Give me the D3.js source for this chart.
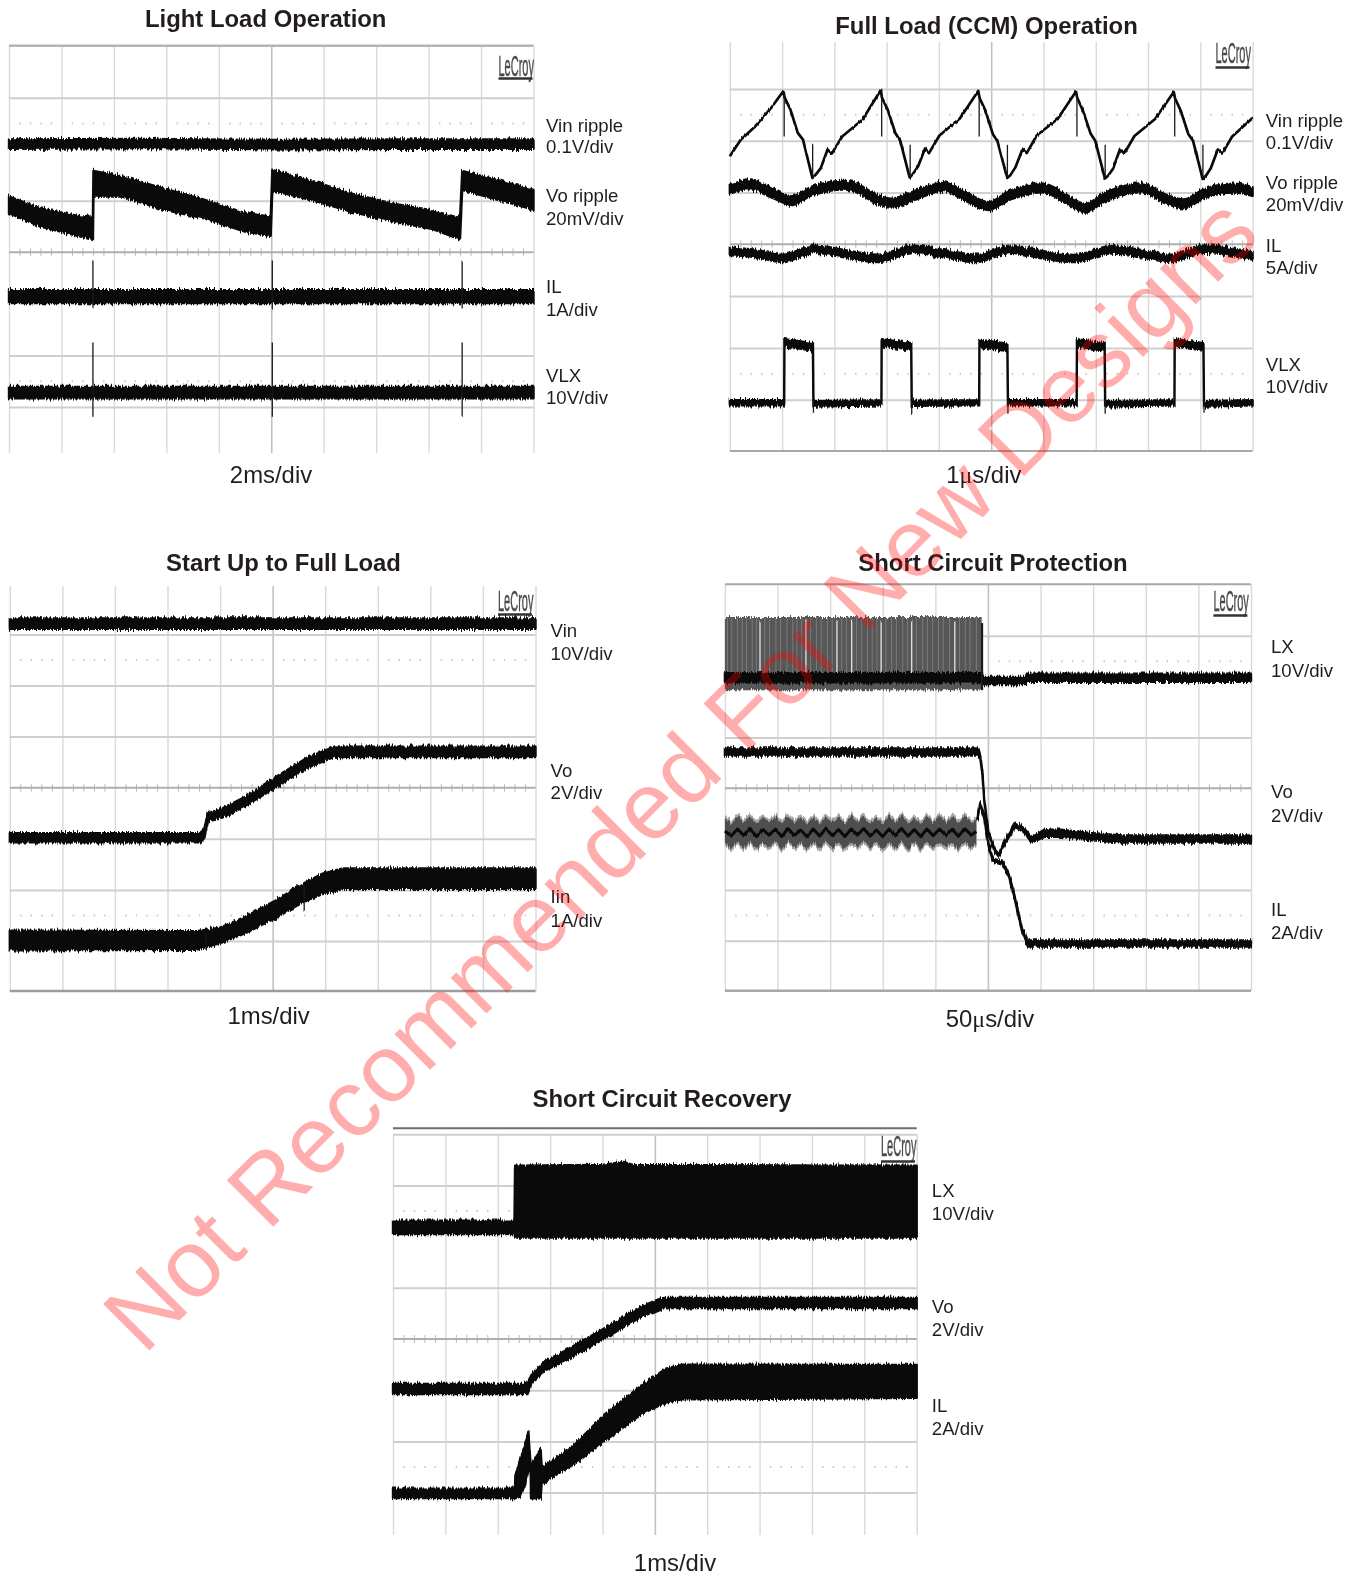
<!DOCTYPE html>
<html>
<head>
<meta charset="utf-8">
<title>Scope captures</title>
<script src="https://cdn.jsdelivr.net/npm/d3@7"></script>
<style>
  body { margin: 0; background: #fff; }
  text { font-family: "Liberation Sans", Arial, sans-serif; fill: #231f20; }
</style>
</head>
<body>
<div id="chart"></div>
<script>
// all traces read off the scope shots, x in divisions (0-10), y in divisions from centre (+ is up)
// band rows are [x, mid, half thickness], line rows are [x, y], spikes are [x, y1, y2]

const lightVin = [[0,2.10,.09],[2.5,2.11,.09],[5,2.09,.09],[7.5,2.10,.09],[10,2.10,.09]];
const lightVo = [[0,.92,.16],[.6,.675,.175],[1.385,.495,.195],[1.6,.48,.24],[1.61,1.33,.25],[2.16,1.275,.195],[2.94,1.035,.205],[3.72,.84,.18],[4.5,.58,.18],[4.99,.505,.185],[5.02,1.4,.2],[5.74,1.21,.19],[6.52,.965,.175],[7.3,.775,.175],[8.08,.63,.18],[8.6,.455,.205],[8.64,1.395,.185],[9.32,1.21,.19],[10,1.02,.19]];
const lightIl = [[0,-.86,.125],[5,-.86,.125],[10,-.86,.125]];
const lightVlx = [[0,-2.72,.11],[5,-2.72,.11],[10,-2.72,.11]];
const lightSpikes = [[1.6,-.16,-1.09],[5.02,-.16,-1.09],[8.64,-.16,-1.09],[1.6,-1.75,-3.19],[5.02,-1.75,-3.19],[8.64,-1.75,-3.19]];

const fullVin = [[0,1.70],[.21,2.02],[.49,2.28],[.81,2.66],[1.026,2.96],[1.05,2.83],[1.16,2.6],[1.30,2.15],[1.40,2.02],[1.58,1.28],[1.64,1.34],[1.74,1.47],[1.87,1.83],[1.95,1.75],
  [2.15,2.08],[2.54,2.41],[2.889,2.98],[2.91,2.83],[3.02,2.6],[3.165,2.15],[3.26,2.0],[3.44,1.29],[3.505,1.36],[3.6,1.5],[3.735,1.85],[3.81,1.76],
  [4.01,2.1],[4.4,2.43],[4.752,2.96],[4.78,2.82],[4.89,2.58],[5.03,2.13],[5.12,1.99],[5.305,1.28],[5.37,1.34],[5.46,1.48],[5.6,1.84],[5.68,1.76],
  [5.87,2.1],[6.27,2.42],[6.622,2.95],[6.645,2.83],[6.755,2.58],[6.9,2.14],[6.99,2.0],[7.175,1.27],[7.24,1.33],[7.33,1.46],[7.465,1.84],[7.545,1.75],
  [7.74,2.09],[8.135,2.42],[8.492,2.94],[8.515,2.82],[8.625,2.58],[8.77,2.13],[8.86,2.0],[9.045,1.26],[9.11,1.33],[9.2,1.47],[9.335,1.83],[9.415,1.75],
  [9.61,2.08],[10,2.44]];
const fullVo = [[0,1.065,.085],[.41,1.148,.085],[.805,.987,.085],[1.2,.845,.085],[1.594,1.039,.085],[2.305,1.129,.085],[2.778,.89,.085],[3.094,.794,.085],[3.567,.955,.085],[4.08,1.116,.085],[4.515,.923,.085],[4.949,.729,.085],[5.383,.955,.085],[6.014,1.084,.085],[6.409,.89,.085],[6.803,.697,.085],[7.198,.923,.085],[7.908,1.084,.085],[8.303,.89,.085],[8.698,.781,.085],[9.092,.987,.085],[9.645,1.084,.085],[10,1.019,.085]];
const fullIl = [[0,-.142,.07],[.489,-.174,.07],[1.026,-.271,.07],[1.594,-.097,.07],[2.226,-.187,.07],[2.857,-.271,.07],[3.489,-.097,.07],[4.12,-.187,.07],[4.751,-.271,.07],[5.343,-.097,.07],[6.014,-.206,.07],[6.646,-.271,.07],[7.238,-.11,.07],[7.908,-.187,.07],[8.461,-.271,.07],[9.013,-.097,.07],[10,-.226,.07]];
const fullVlx = [[0,-3.06,.05],[1.04,-3.06,.05],[1.045,-1.90,.07],[1.59,-1.98,.07],[1.6,-3.08,.05],[2.9,-3.06,.05],[2.905,-1.90,.07],[3.47,-1.98,.07],[3.48,-3.07,.05],[4.77,-3.06,.05],[4.775,-1.91,.07],[5.31,-1.99,.07],[5.32,-3.06,.05],[6.635,-3.06,.05],[6.64,-1.90,.07],[7.17,-1.98,.07],[7.18,-3.08,.05],[8.505,-3.06,.05],[8.51,-1.90,.07],[9.06,-1.98,.07],[9.07,-3.08,.05],[10,-3.06,.05]];
const fullSpikes = [[1.04,2.9,2.08],[2.905,2.9,2.08],[4.77,2.9,2.08],[6.64,2.9,2.08],[8.51,2.9,2.08],[1.585,1.3,1.92],[3.45,1.3,1.92],[5.31,1.3,1.92],[7.18,1.3,1.92],[9.05,1.3,1.92],[1.6,-3.0,-3.27],[3.48,-3.0,-3.27],[5.32,-3.0,-3.27],[7.18,-3.0,-3.27],[9.07,-3.0,-3.27]];

const startVin = [[0,3.21,.1],[5,3.21,.1],[10,3.21,.1]];
const startVo = [[0,-.98,.09],[3.62,-.98,.09],[3.7,-.895,.09],[3.77,-.58,.08],[4.0,-.516,.09],[4.47,-.275,.09],[5.02,.085,.1],[5.64,.477,.1],[6.18,.706,.1],[6.34,.70,.1],[10,.70,.1]];
const startIin = [[0,-2.99,.19],[3.55,-2.99,.18],[4.0,-2.89,.15],[4.47,-2.69,.16],[5.02,-2.4,.17],[5.56,-2.07,.18],[5.95,-1.88,.2],[6.34,-1.78,.2],[6.8,-1.78,.2],[10,-1.78,.2]];
const startSpikes = [[3.73,-2.86,-3.17],[5.6,-1.91,-2.43]];

const protLxGrey = [[0,2.65,.72],[4.88,2.65,.72]];
const protLxGaps = [.667,1.54,2.13,2.41,2.97,3.55,4.37];
const protLxHatch = [.05,.13,.24,.33,.41,.52,.6,.76,.85,.97,1.06,1.18,1.29,1.37,1.46,1.63,1.74,1.83,1.95,2.04,2.22,2.31,2.5,2.6,2.71,2.8,2.89,3.06,3.17,3.26,3.38,3.47,3.64,3.76,3.85,3.95,4.06,4.15,4.27,4.46,4.57,4.66,4.78];
const protLx = [[0,2.175,.09],[4.885,2.175,.09],[4.89,2.12,.07],[5.72,2.12,.07],[5.73,2.175,.08],[10,2.175,.08]];
const protLxEdge = [[4.888,3.25,1.93]];
const protVo = [[0,.715,.07],[4.816,.715,.07],[4.855,.62,.03],[4.894,.295,.02],[4.93,-.23,.02],[5.01,-.885,.02],[5.13,-1.213,.03],[5.208,-1.31,.03],[5.325,-1.05,.03],[5.52,-.72,.04],[5.68,-.82,.04],[5.835,-1.016,.05],[6.07,-.885,.07],[6.38,-.885,.07],[6.93,-.95,.07],[7.56,-.997,.07],[10,-.997,.07]];
const protIlRipple = [[0,-.84],[.12,-.94],[.24,-.8],[.36,-.93],[.48,-.79],[.6,-.95],[.72,-.81],[.84,-.92],[.96,-.8],[1.08,-.95],[1.2,-.79],[1.32,-.93],[1.44,-.82],[1.56,-.95],[1.68,-.8],[1.8,-.94],[1.92,-.79],[2.04,-.93],[2.16,-.81],[2.28,-.95],[2.4,-.8],[2.52,-.92],[2.64,-.79],[2.76,-.94],[2.88,-.82],[3.0,-.95],[3.12,-.8],[3.24,-.93],[3.36,-.79],[3.48,-.94],[3.6,-.81],[3.72,-.95],[3.84,-.8],[3.96,-.93],[4.08,-.8],[4.2,-.92],[4.32,-.81],[4.44,-.94],[4.56,-.79],[4.68,-.92],[4.78,-.85]];
const protIl = [[4.8,-.6,.02],[4.855,-.3,.02],[4.93,-.557,.02],[4.99,-1.016,.02],[5.09,-1.41,.03],[5.286,-1.475,.03],[5.404,-1.738,.03],[5.52,-2.197,.03],[5.64,-2.754,.03],[5.757,-3.05,.06],[10,-3.05,.06]];

const recLx = [[0,2.18,.13],[2.32,2.18,.13],[2.33,2.683,.70],[4.0,2.69,.71],[4.4,2.72,.74],[4.58,2.69,.71],[10,2.683,.70]];
const recVo = [[0,-.977,.1],[2.556,-.977,.1],[2.67,-.736,.08],[2.83,-.605,.09],[2.87,-.54,.09],[3.26,-.345,.1],[4.04,.11,.1],[4.74,.534,.1],[5.13,.697,.1],[5.28,.703,.1],[10,.703,.1]];
const recIl = [[0,-3.014,.09],[2.33,-3.014,.09],[2.336,-2.9,.21],[2.425,-2.72,.36],[2.52,-2.46,.36],[2.584,-2.185,.375],[2.63,-2.52,.04],[2.635,-2.8,.31],[2.744,-2.688,.42],[2.82,-2.63,.48],[2.84,-2.67,.15],[3.49,-2.233,.19],[4.04,-1.732,.26],[4.74,-1.19,.28],[5.21,-.911,.33],[5.52,-.84,.34],[10,-.827,.32]];

// text
const panelTitles = ["Light Load Operation", "Full Load (CCM) Operation", "Start Up to Full Load", "Short Circuit Protection", "Short Circuit Recovery"];
const timebases = ["2ms/div", "1μs/div", "1ms/div", "50μs/div", "1ms/div"];
const lightLabels = ["Vin ripple", "0.1V/div", "Vo ripple", "20mV/div", "IL", "1A/div", "VLX", "10V/div"];
const fullLabels = ["Vin ripple", "0.1V/div", "Vo ripple", "20mV/div", "IL", "5A/div", "VLX", "10V/div"];
const startLabels = ["Vin", "10V/div", "Vo", "2V/div", "Iin", "1A/div"];
const protLabels = ["LX", "10V/div", "Vo", "2V/div", "IL", "2A/div"];
const recLabels = ["LX", "10V/div", "Vo", "2V/div", "IL", "2A/div"];
const stamp = "Not Recommended For New Designs";

// layout of each screen
const panels = [
  { title: panelTitles[0], titleAt: [265.7, 19.3], time: timebases[0], timeAt: [271, 475],
    x0: 9, x1: 533.5, yc: 252.3, div: 51.55, top: 46, bottom: 453, hTicks: [3,1,-2,-3],
    labels: lightLabels, labelX: 546, labelY: [125,146.7,195,218,286.7,309,375,397.3],
    logo: [498.5, 75.5, 78.5], topLine: {at: 45.7, color: "#b4b4b4", w: 2.4},
    bands: [lightVin, lightVo, lightIl, lightVlx], spikes: lightSpikes },
  { title: panelTitles[1], titleAt: [986.5, 26], time: timebases[1], timeAt: [983.8, 475],
    x0: 729.8, x1: 1252.6, yc: 244.3, div: 51.8, top: 42, bottom: 451, hTicks: [3,2,1,-1,-2,-3],
    labels: fullLabels, labelX: 1265.8, labelY: [120,142.7,182.7,204,245,267.7,364.3,386.7],
    logo: [1215.5, 63, 67.5], bottomLine: {at: 451, color: "#a8a8a8", w: 2},
    bands: [fullVo, fullIl, fullVlx], lines: [fullVin], spikes: fullSpikes },
  { title: panelTitles[2], titleAt: [283.5, 562.7], time: timebases[2], timeAt: [268.6, 1015.7],
    x0: 9.8, x1: 535.5, yc: 787.7, div: 51.1, top: 586, bottom: 991, hTicks: [3,2,1,-1,-2,-3],
    labels: startLabels, labelX: 550.6, labelY: [630.7,653.7,770.7,792.7,896.7,920],
    logo: [498, 611, 614.5], bottomLine: {at: 991, color: "#9c9c9c", w: 2.4},
    bands: [startVin, startVo, startIin], spikes: startSpikes },
  { title: panelTitles[3], titleAt: [993, 562.7], time: timebases[3], timeAt: [990, 1019],
    x0: 724.9, x1: 1251, yc: 788.3, div: 50.85, top: 584.3, bottom: 990.7, hTicks: [3,1,-1,-2,-3],
    labels: protLabels, labelX: 1271, labelY: [646.7,670,791.7,815,909.3,932.7],
    logo: [1213.4, 611, 615.5], topLine: {at: 584.3, color: "#a8a8a8", w: 2}, bottomLine: {at: 990.7, color: "#a8a8a8", w: 2.4},
    bands: [protLx, protVo, protIl], spikes: protLxEdge, lines: [protIlRipple], ripple: true },
  { title: panelTitles[4], titleAt: [662, 1099], time: timebases[4], timeAt: [675, 1563.3],
    x0: 393, x1: 916.7, yc: 1339, div: 51.2, top: 1134.3, bottom: 1535, hTicks: [4,3,1,-1,-2,-3],
    labels: recLabels, labelX: 931.8, labelY: [1190.7,1213.3,1306.7,1329,1405.7,1428.3],
    logo: [881, 1156, 1161.5], topLine: {at: 1128.3, color: "#6e6e6e", w: 2},
    bands: [recLx, recVo, recIl] }
];

const svg = d3.select("#chart").append("svg")
  .attr("width", 1357)
  .attr("height", 1577)
  .style("display", "block");

// the traces on the shots have a grassy edge and are a bit out of focus
const defs = svg.append("defs");
function addGrass(id, amount) {
  const f = defs.append("filter").attr("id", id)
    .attr("filterUnits", "userSpaceOnUse")
    .attr("x", 0).attr("y", 0).attr("width", 1357).attr("height", 1577)
    .attr("color-interpolation-filters", "sRGB");
  f.append("feTurbulence").attr("type", "fractalNoise").attr("baseFrequency", "0.75 0.03")
    .attr("numOctaves", 2).attr("seed", 4).attr("result", "n");
  f.append("feColorMatrix").attr("in", "n").attr("type", "matrix")
    .attr("values", "0 0 0 0 .5  0 1 0 0 0  0 0 1 0 0  0 0 0 0 1").attr("result", "m");
  f.append("feDisplacementMap").attr("in", "SourceGraphic").attr("in2", "m")
    .attr("scale", amount).attr("xChannelSelector", "R").attr("yChannelSelector", "G").attr("result", "d");
  f.append("feGaussianBlur").attr("in", "d").attr("stdDeviation", 0.45);
}
addGrass("grass", 7);
addGrass("grassThin", 3);

function addSoft(id, amount) {
  defs.append("filter").attr("id", id)
    .attr("filterUnits", "userSpaceOnUse")
    .attr("x", 0).attr("y", 0).attr("width", 1357).attr("height", 1577)
    .append("feGaussianBlur").attr("stdDeviation", amount);
}
addSoft("soft", 0.35);
addSoft("softer", 0.55);

function noDomain(g) { g.select(".domain").remove(); }

panels.forEach(function(p) {
  const x = d3.scaleLinear().domain([0, 10]).range([p.x0, p.x1]);
  const y = d3.scaleLinear().domain([-4, 4]).range([p.yc + 4 * p.div, p.yc - 4 * p.div]);
  const g = svg.append("g");

  // graticule
  const grid = g.append("g").attr("filter", "url(#softer)");
  const verticals = grid.append("g")
    .attr("transform", `translate(0, ${p.bottom})`)
    .call(d3.axisBottom(x).tickValues(d3.range(0, 11)).tickSize(-(p.bottom - p.top)).tickFormat(""))
    .call(noDomain);
  verticals.selectAll("line").attr("stroke", d => d === 5 ? "#c2c2c2" : "#dadada").attr("stroke-width", d => d === 5 ? 1.6 : 1.4);

  grid.append("g")
    .attr("transform", `translate(${p.x0}, 0)`)
    .call(d3.axisLeft(y).tickValues(p.hTicks).tickSize(-(p.x1 - p.x0)).tickFormat(""))
    .call(noDomain)
    .selectAll("line").attr("stroke", "#cfcfcf").attr("stroke-width", 2);

  const minor = d3.range(0, 50).map(d => d / 5).filter(d => d % 1 !== 0 && d > 0);
  grid.append("g")
    .attr("transform", `translate(0, ${y(0) + 4})`)
    .call(d3.axisTop(x).tickValues(minor).tickSize(8).tickFormat(""))
    .call(noDomain)
    .selectAll("line").attr("stroke", "#bcbcbc").attr("stroke-width", 1);
  grid.append("g").attr("transform", `translate(${p.x0}, ${y(0)})`)
    .append("line").attr("x2", p.x1 - p.x0).attr("stroke", "#aeaeae").attr("stroke-width", 2);

  [2.5, -2.5].forEach(function(row) {
    grid.append("g")
      .attr("transform", `translate(0, ${y(row) - 1})`)
      .call(d3.axisBottom(x).tickValues(minor).tickSize(2).tickFormat(""))
      .call(noDomain)
      .selectAll("line").attr("stroke", "#c8c8c8").attr("stroke-width", 1.4);
  });

  if (p.topLine) {
    grid.append("line").attr("x1", p.x0).attr("x2", p.x1).attr("y1", p.topLine.at).attr("y2", p.topLine.at)
      .attr("stroke", p.topLine.color).attr("stroke-width", p.topLine.w);
  }
  if (p.bottomLine) {
    grid.append("line").attr("x1", p.x0).attr("x2", p.x1).attr("y1", p.bottomLine.at).attr("y2", p.bottomLine.at)
      .attr("stroke", p.bottomLine.color).attr("stroke-width", p.bottomLine.w);
  }

  // LeCroy mark
  const mark = g.append("g").attr("filter", "url(#soft)");
  mark.append("g").attr("transform", `translate(${p.logo[0]}, ${p.logo[1]}) scale(.55, 1.52)`)
    .append("text").attr("font-size", 20).style("fill", "#4a4a4a")
    .attr("stroke", "#4a4a4a").attr("stroke-width", .35).text("LeCroy");
  mark.append("line").attr("x1", p.logo[0]).attr("x2", p.logo[0] + 34).attr("y1", p.logo[2]).attr("y2", p.logo[2])
    .attr("stroke", "#333").attr("stroke-width", 2.4);

  // traces
  const bandPath = d3.area().x(d => x(d[0])).y0(d => y(d[1] - d[2])).y1(d => y(d[1] + d[2]));
  const linePath = d3.line().x(d => x(d[0])).y(d => y(d[1]));

  if (p.ripple) {
    // short circuit shot: the grey chopped traces sit under the black ones
    const grey = g.append("g").attr("filter", "url(#grass)");
    grey.append("path").datum(protLxGrey).attr("d", bandPath).attr("fill", "#575757");
    grey.selectAll(".hatch").data(protLxHatch).enter().append("line")
      .attr("x1", d => x(d)).attr("x2", d => x(d))
      .attr("y1", y(3.35)).attr("y2", y(2.3))
      .attr("stroke", "#8a8a8a").attr("stroke-width", .7);
    grey.selectAll(".gap").data(protLxGaps).enter().append("line")
      .attr("x1", d => x(d)).attr("x2", d => x(d))
      .attr("y1", y(3.3)).attr("y2", y(2.25))
      .attr("stroke", "#dcdcdc").attr("stroke-width", 1.4);
    grey.append("path").datum(protIlRipple.map(d => [d[0], d[1], .31])).attr("d", bandPath).attr("fill", "#a4a4a4");
    grey.append("path").datum(protIlRipple.map(d => [d[0], d[1], .25])).attr("d", bandPath).attr("fill", "#4e4e4e");
  }

  const traces = g.append("g").attr("filter", "url(#grass)");
  p.bands.forEach(function(rows) {
    traces.append("path").datum(rows)
      .attr("d", bandPath.curve(rows === fullVo || rows === fullIl ? d3.curveCatmullRom : d3.curveLinear))
      .attr("fill", "#0a0a0a").attr("stroke", "#0a0a0a").attr("stroke-width", 2.4).attr("stroke-linejoin", "round");
  });

  const thin = g.append("g").attr("filter", "url(#grassThin)");
  (p.lines || []).forEach(function(rows) {
    thin.append("path").datum(rows).attr("d", linePath)
      .attr("fill", "none").attr("stroke", "#0a0a0a").attr("stroke-width", p.ripple ? 3 : 2.7).attr("stroke-linejoin", "round");
  });
  thin.selectAll(".spike").data(p.spikes || []).enter().append("line")
    .attr("x1", d => x(d[0])).attr("x2", d => x(d[0]))
    .attr("y1", d => y(d[1])).attr("y2", d => y(d[2]))
    .attr("stroke", "#1a1a1a").attr("stroke-width", p.ripple ? 2.2 : 1.3);

  // text
  const words = g.append("g").attr("filter", "url(#soft)");
  words.append("text").attr("x", p.titleAt[0]).attr("y", p.titleAt[1] + 8)
    .attr("text-anchor", "middle").attr("font-size", 23.9).attr("font-weight", "bold").text(p.title);

  words.selectAll(".lab").data(p.labels).enter().append("text")
    .attr("x", p.labelX).attr("y", (d, i) => p.labelY[i] + 6.6)
    .attr("font-size", 18.6).text(d => d);

  const time = words.append("text").attr("x", p.timeAt[0]).attr("y", p.timeAt[1] + 8)
    .attr("text-anchor", "middle").attr("font-size", 23.9);
  const bits = p.time.split("μ");
  time.append("tspan").text(bits[0]);
  if (bits.length > 1) {
    time.append("tspan").style("font-family", "'Liberation Serif', serif").text("μ");
    time.append("tspan").text(bits[1]);
  }
});

// red stamp across the page
svg.append("text")
  .attr("transform", "translate(144, 1356) rotate(-45)")
  .attr("font-size", 95.5)
  .style("fill", "#ff0000")
  .style("opacity", .32)
  .text(stamp);
</script>
</body>
</html>
